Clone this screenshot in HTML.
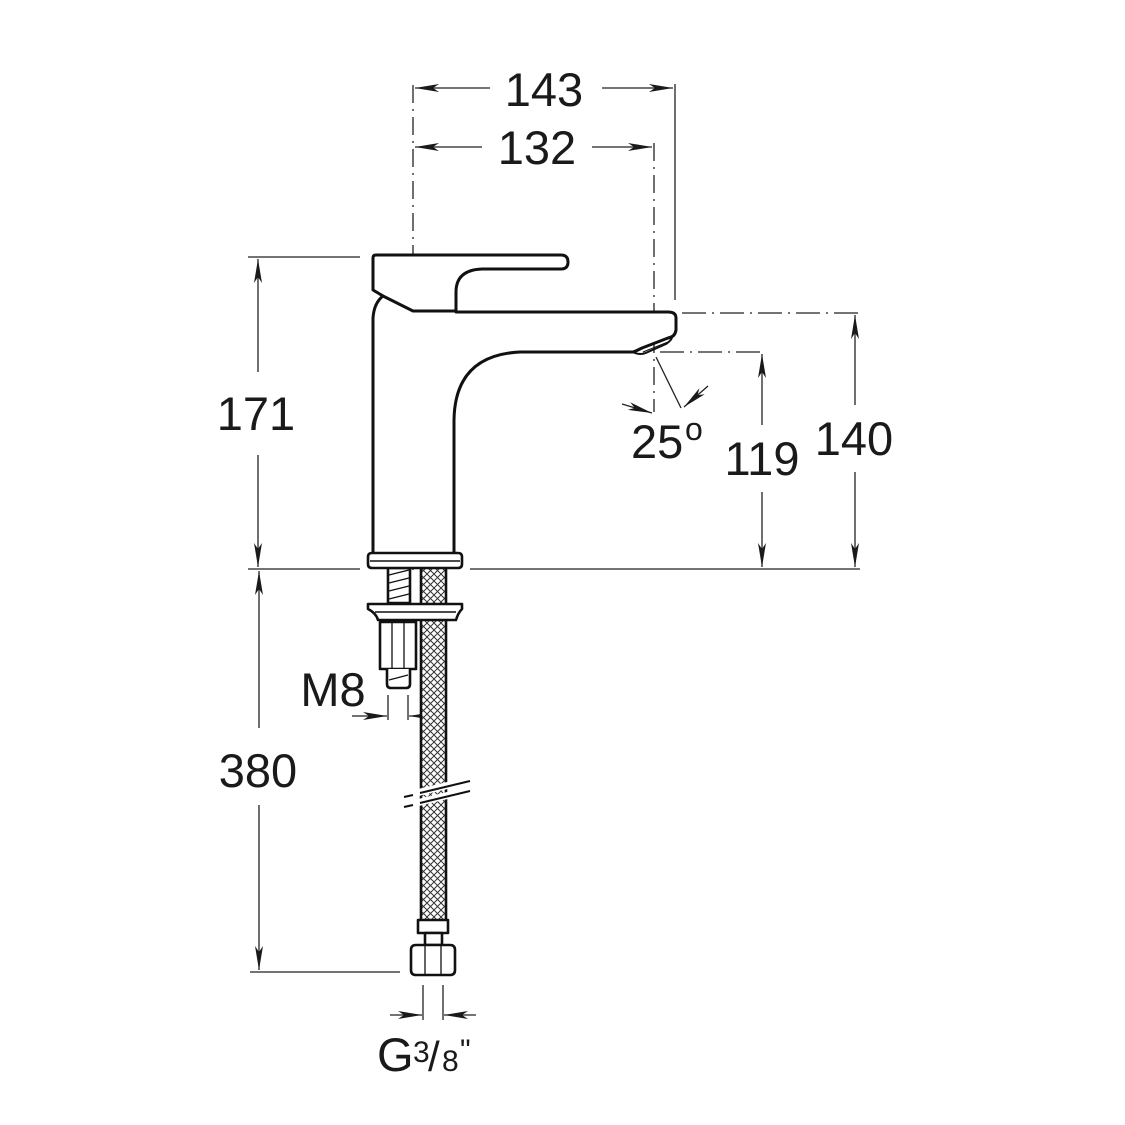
<!DOCTYPE html>
<html><head><meta charset="utf-8"><style>
html,body{margin:0;padding:0;background:#fff;}
svg{display:block;}
text{font-family:"Liberation Sans",Arial,sans-serif;fill:#1a1a1a;}
</style></head><body>
<svg width="1125" height="1125" viewBox="0 0 1125 1125" xmlns="http://www.w3.org/2000/svg">
<defs>
<marker id="a" viewBox="0 0 14 10" refX="14" refY="5" markerWidth="14" markerHeight="10" markerUnits="userSpaceOnUse" orient="auto-start-reverse">
<path d="M0,0.5 L14,5 L0,9.5 Z" fill="#1a1a1a"/></marker>
<marker id="b" viewBox="0 0 24 10" refX="24" refY="5" markerWidth="24" markerHeight="10" markerUnits="userSpaceOnUse" orient="auto-start-reverse">
<path d="M0,1 L24,5 L0,9 L6,5 Z" fill="#1a1a1a"/></marker>
<pattern id="mesh" width="7" height="7" patternUnits="userSpaceOnUse">
<rect width="7" height="7" fill="#fff"/>
<path d="M0,0 L7,7 M7,0 L0,7" stroke="#333" stroke-width="1"/></pattern>
</defs>
<g stroke="#222" fill="none" stroke-width="1.3">
<line x1="413" y1="85" x2="413" y2="570" stroke-dasharray="18,6,2,6"/>
<line x1="654" y1="143" x2="654" y2="412" stroke-dasharray="18,6,2,6"/>
<line x1="682" y1="313" x2="860" y2="313" stroke-dasharray="24,6,2,6"/>
<line x1="660" y1="352" x2="765" y2="352" stroke-dasharray="24,6,2,6"/>
<line x1="675" y1="84" x2="675" y2="300"/>
<line x1="248" y1="257" x2="360" y2="257"/>
<line x1="248" y1="569" x2="360" y2="569"/>
<line x1="470" y1="569" x2="860" y2="569"/>
<line x1="250" y1="972" x2="400" y2="972"/>
<line x1="415" y1="88" x2="490" y2="88" marker-start="url(#b)"/>
<line x1="602" y1="88" x2="673" y2="88" marker-end="url(#b)"/>
<line x1="415" y1="147" x2="482" y2="147" marker-start="url(#b)"/>
<line x1="592" y1="147" x2="652" y2="147" marker-end="url(#b)"/>
<line x1="258" y1="259" x2="258" y2="372" marker-start="url(#b)"/>
<line x1="258" y1="455" x2="258" y2="567" marker-end="url(#b)"/>
<line x1="259" y1="571" x2="259" y2="728" marker-start="url(#b)"/>
<line x1="259" y1="805" x2="259" y2="970" marker-end="url(#b)"/>
<line x1="855" y1="315" x2="855" y2="405" marker-start="url(#b)"/>
<line x1="855" y1="472" x2="855" y2="567" marker-end="url(#b)"/>
<line x1="762" y1="354" x2="762" y2="425" marker-start="url(#b)"/>
<line x1="762" y1="492" x2="762" y2="567" marker-end="url(#b)"/>
<line x1="656" y1="357" x2="681" y2="408"/>
<line x1="622" y1="404" x2="652" y2="413" marker-end="url(#b)"/>
<line x1="708" y1="386" x2="684" y2="407" marker-end="url(#b)"/>
<line x1="388" y1="695" x2="388" y2="720"/>
<line x1="408" y1="695" x2="408" y2="720"/>
<line x1="352" y1="716" x2="387" y2="716" marker-end="url(#b)"/>
<line x1="442" y1="716" x2="409" y2="716" marker-end="url(#b)"/>
<line x1="423" y1="985" x2="423" y2="1020"/>
<line x1="443" y1="985" x2="443" y2="1020"/>
<line x1="390" y1="1015" x2="422" y2="1015" marker-end="url(#b)"/>
<line x1="476" y1="1015" x2="444" y2="1015" marker-end="url(#b)"/>
</g>
<g stroke="#111" stroke-width="3" fill="#fff" stroke-linejoin="round">
<path d="M373,555 L373,318 Q374,303 383,296 L373,290 L373,258 Q373,255 376,255 L561,255 Q568,255 568,262 Q568,269 561,269 L482,269 Q456,270 456,292 L456,312 L668,312 Q676,312 676,318 L676,330 Q675,337 668,338 L642,348 Q636,351 633,352 L520,352 Q455,355 454,420 L454,555"/>
<path d="M383,296 L413,311 L456,311" fill="none"/>
<path d="M633,352 Q640,356 648,352 L666,344 Q672,340 672,337" fill="none" stroke-width="2"/>
<path d="M640,349 L668,338 M643,352 L668,342" fill="none" stroke-width="1.2"/>
</g>
<g stroke="#111" stroke-width="2.6" fill="#fff" stroke-linejoin="round">
<rect x="388" y="568" width="22" height="35"/>
<path d="M389,575 L409,570 M389,583 L409,578 M389,591 L409,586 M389,599 L409,594" stroke-width="1.2"/>
<rect x="421" y="566" width="25" height="360" fill="url(#mesh)"/>
<path d="M368,557 Q368,553 372,553 L458,553 Q462,553 462,557 L462,564 Q462,568 458,568 L372,568 Q368,568 368,564 Z"/>
<line x1="370" y1="561" x2="460" y2="561" stroke-width="1.5"/>
<path d="M368,604 L462,604 L462,609 Q458,613 456,620 L378,620 Q376,613 368,609 Z"/>
<line x1="375" y1="612" x2="456" y2="612" stroke-width="1.5"/>
<rect x="380" y="622" width="36" height="47"/>
<path d="M392,622 L392,669 M404,622 L404,669" stroke-width="1.3"/>
<path d="M387,669 L387,684 Q387,688 391,688 L406,688 Q410,688 410,684 L410,669"/>
<path d="M389,680 L408,675" stroke-width="1.2"/>
<rect x="418" y="920" width="30" height="13"/>
<rect x="425" y="933" width="17" height="12"/>
<path d="M411,950 Q411,945 416,945 L450,945 Q455,945 455,950 L455,970 Q455,975 450,975 L416,975 Q411,975 411,970 Z"/>
<path d="M425,945 L425,975 M441,945 L441,975" stroke-width="1.3"/>
</g>
<path d="M404,796 L470,780 M404,806 L470,790" stroke="#fff" stroke-width="7"/>
<path d="M404,797 L413,795 M420,793 L470,781 M404,807 L413,805 M420,803 L470,791" stroke="#111" stroke-width="2"/>
<g font-size="47">
<text x="544" y="106" text-anchor="middle">143</text>
<text x="537" y="164" text-anchor="middle">132</text>
<text x="256" y="430" text-anchor="middle">171</text>
<text x="258" y="787" text-anchor="middle">380</text>
<text x="854" y="455" text-anchor="middle">140</text>
<text x="762" y="475" text-anchor="middle">119</text>
<text x="631" y="458">25</text>
<text x="333" y="706" text-anchor="middle">M8</text>
<text x="377" y="1071">G</text>
</g>
<text x="685" y="440" font-size="32">o</text>
<text x="413" y="1062" font-size="30">3</text>
<text x="428" y="1071" font-size="42">/</text>
<text x="442" y="1071" font-size="30">8</text>
<text x="460" y="1060" font-size="30">"</text>
</svg>
</body></html>
